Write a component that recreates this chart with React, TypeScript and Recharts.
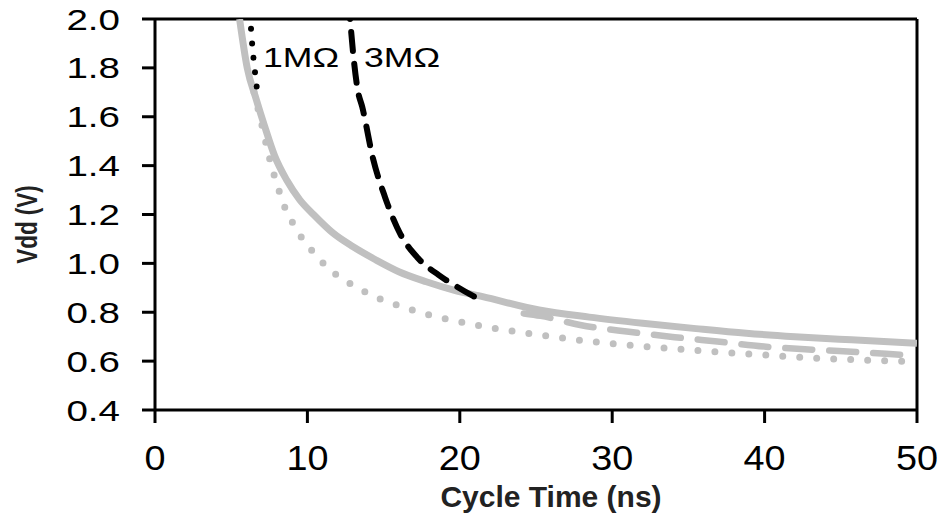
import React from 'react';
import { LineChart, Line, XAxis, YAxis, ReferenceLine, ReferenceDot } from 'recharts';

const xTicks = [0, 10, 20, 30, 40, 50];
const yTicks = [0.4, 0.6, 0.8, 1.0, 1.2, 1.4, 1.6, 1.8, 2.0];

const graySolid = [
  { t: 5.55, v: 2.0 }, { t: 6.05, v: 1.8 }, { t: 6.65, v: 1.67 }, { t: 7.2, v: 1.56 },
  { t: 7.85, v: 1.44 }, { t: 8.65, v: 1.34 }, { t: 9.5, v: 1.26 }, { t: 10.4, v: 1.2 },
  { t: 11.7, v: 1.123 }, { t: 13, v: 1.068 }, { t: 14.5, v: 1.014 }, { t: 16, v: 0.966 },
  { t: 17.8, v: 0.925 }, { t: 19.6, v: 0.891 }, { t: 21.5, v: 0.864 }, { t: 25.2, v: 0.809 },
  { t: 28.5, v: 0.78 }, { t: 32, v: 0.755 }, { t: 35.5, v: 0.733 }, { t: 38.8, v: 0.714 },
  { t: 42, v: 0.7 }, { t: 45.7, v: 0.687 }, { t: 50, v: 0.673 },
];

const grayDotted = [
  { t: 6.5, v: 1.7 }, { t: 7.0, v: 1.57 }, { t: 7.4, v: 1.46 }, { t: 7.66, v: 1.395 },
  { t: 7.94, v: 1.337 }, { t: 8.25, v: 1.276 }, { t: 8.6, v: 1.216 }, { t: 9.12, v: 1.157 },
  { t: 9.69, v: 1.099 }, { t: 10.5, v: 1.038 }, { t: 11.42, v: 0.977 }, { t: 12.51, v: 0.928 },
  { t: 13.65, v: 0.888 }, { t: 14.83, v: 0.853 }, { t: 16, v: 0.827 }, { t: 17.13, v: 0.804 },
  { t: 18.24, v: 0.785 }, { t: 19.46, v: 0.768 }, { t: 22.9, v: 0.728 }, { t: 26.3, v: 0.698 },
  { t: 29.7, v: 0.673 }, { t: 33.1, v: 0.655 }, { t: 36.6, v: 0.639 }, { t: 40, v: 0.625 },
  { t: 43.4, v: 0.612 }, { t: 46.7, v: 0.604 }, { t: 50, v: 0.598 },
];

const grayDashed = [
  { t: 24.2, v: 0.795 }, { t: 25.3, v: 0.785 }, { t: 27.9, v: 0.748 }, { t: 31.1, v: 0.72 },
  { t: 34.1, v: 0.698 }, { t: 36.9, v: 0.68 }, { t: 40.1, v: 0.659 }, { t: 43.4, v: 0.646 },
  { t: 46.4, v: 0.636 }, { t: 49.2, v: 0.625 }, { t: 50, v: 0.622 },
];

const black3M = [
  { t: 12.8, v: 2.0 }, { t: 13.05, v: 1.83 }, { t: 13.3, v: 1.71 }, { t: 13.6, v: 1.64 },
  { t: 14.3, v: 1.43 }, { t: 15.1, v: 1.27 }, { t: 16.1, v: 1.12 }, { t: 17.2, v: 1.025 },
  { t: 18.6, v: 0.953 }, { t: 19.8, v: 0.905 }, { t: 21.5, v: 0.845 },
];

const black1M = [
  { t: 6.3, v: 1.96 }, { t: 6.4, v: 1.88 }, { t: 6.5, v: 1.82 }, { t: 6.6, v: 1.76 }, { t: 6.72, v: 1.7 },
];

const annotations = [
  { t: 7.09, v: 1.804, text: '1MΩ' },
  { t: 13.71, v: 1.804, text: '3MΩ' },
];

const FONT = '"Liberation Sans", Arial, Helvetica, sans-serif';
const GRAY = '#c0c0c0';

const YTick = (props: any) => {
  const { x, y, payload } = props;
  return (
    <g transform={`translate(${x - 20},${y + 10.5}) scale(1.33,1)`}>
      <text x={0} y={0} textAnchor="end" fontFamily={FONT} fontSize={29} fill="#000">
        {Number(payload.value).toFixed(1)}
      </text>
    </g>
  );
};

const XTick = (props: any) => {
  const { x, y, payload } = props;
  return (
    <g transform={`translate(${x},${y + 45}) scale(1.08,1)`}>
      <text x={0} y={0} textAnchor="middle" fontFamily={FONT} fontSize={35} fill="#000">
        {payload.value}
      </text>
    </g>
  );
};

const XTitle = (props: any) => {
  const vb = props.viewBox || { x: 155, y: 410, width: 762, height: 107 };
  return (
    <text x={vb.x + vb.width / 2 + 15} y={vb.y + 97} textAnchor="middle" fontFamily={FONT}
      fontWeight="bold" fontSize={30} fill="#222">
      Cycle Time (ns)
    </text>
  );
};

const YTitle = (props: any) => {
  const vb = props.viewBox || { x: 0, y: 19, width: 155, height: 391 };
  const cx = vb.x + 26;
  const cy = vb.y + vb.height / 2 + 10;
  return (
    <g transform={`translate(${cx},${cy}) scale(1.35,1) rotate(-90)`}>
      <text x={0} y={8} textAnchor="middle" fontFamily={FONT} fontWeight="bold" fontSize={22.5} fill="#222">
        Vdd (V)
      </text>
    </g>
  );
};

const AnnotationShape = (text: string) => (props: any) => (
  <g transform={`translate(${props.cx},${props.cy}) scale(1.32,1)`}>
    <text x={0} y={0} fontFamily={FONT} fontSize={27} fill="#000">{text}</text>
  </g>
);

export default function App() {
  return (
    <div style={{ position: 'absolute', left: 0, top: 0, background: '#fff' }}>
      <LineChart width={941} height={517} margin={{ top: 19, right: 24, bottom: 0, left: 0 }}>
        <XAxis
          dataKey="t"
          type="number"
          domain={[0, 50]}
          ticks={xTicks}
          allowDataOverflow
          height={107}
          tickSize={13}
          axisLine={{ stroke: '#000', strokeWidth: 3 }}
          tickLine={{ stroke: '#000', strokeWidth: 3 }}
          tick={XTick}
          label={{ content: XTitle }}
        />
        <YAxis
          type="number"
          domain={[0.4, 2.0]}
          ticks={yTicks}
          allowDataOverflow
          width={155}
          tickSize={13}
          axisLine={{ stroke: '#000', strokeWidth: 3 }}
          tickLine={{ stroke: '#000', strokeWidth: 3 }}
          tick={YTick}
          label={{ content: YTitle }}
        />
        <ReferenceLine y={2.0} stroke="#000" strokeWidth={3} />
        <ReferenceLine x={50} stroke="#000" strokeWidth={3} />
        <Line data={grayDotted} dataKey="v" type="monotone" stroke={GRAY} strokeWidth={7}
          strokeDasharray="0 17" strokeLinecap="round" dot={false} activeDot={false} isAnimationActive={false} />
        <Line data={grayDashed} dataKey="v" type="monotone" stroke={GRAY} strokeWidth={6.5}
          strokeDasharray="27 17" strokeLinecap="round" dot={false} activeDot={false} isAnimationActive={false} />
        <Line data={graySolid} dataKey="v" type="monotone" stroke={GRAY} strokeWidth={7}
          dot={false} activeDot={false} isAnimationActive={false} />
        <Line data={black3M} dataKey="v" type="monotone" stroke="#000" strokeWidth={6}
          strokeDasharray="0 13 19 0" strokeLinecap="round" dot={false} activeDot={false} isAnimationActive={false} />
        <Line data={black1M} dataKey="v" type="monotone" stroke="#000" strokeWidth={6}
          strokeDasharray="0 14.5" strokeLinecap="round" dot={false} activeDot={false} isAnimationActive={false} />
        {annotations.map((a) => (
          <ReferenceDot key={a.text} x={a.t} y={a.v} r={0} ifOverflow="visible" shape={AnnotationShape(a.text)} />
        ))}
      </LineChart>
    </div>
  );
}
